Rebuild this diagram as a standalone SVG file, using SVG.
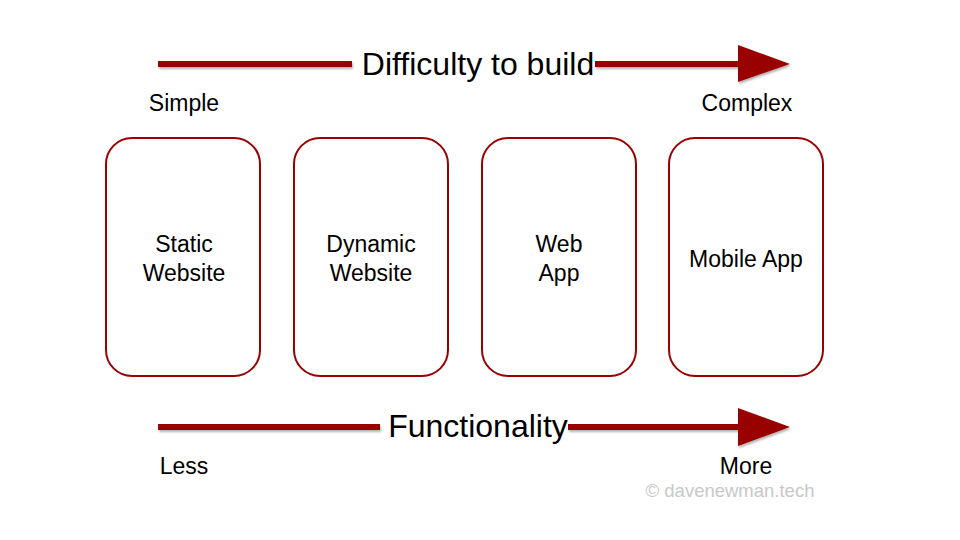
<svg xmlns="http://www.w3.org/2000/svg" width="960" height="540" viewBox="0 0 960 540">
<style>
.box{fill:#fff;stroke:#990000;stroke-width:2}
.t{font-family:"Liberation Sans",Arial,sans-serif;font-size:23px;fill:#000;text-anchor:middle}
.big{font-family:"Liberation Sans",Arial,sans-serif;font-size:32px;fill:#000;text-anchor:middle}
.bar{stroke:#990000;stroke-width:6;fill:none}
.head{fill:#990000}
</style>
<defs>
<filter id="sh" x="-5%" y="-50%" width="110%" height="200%">
<feDropShadow dx="1" dy="2" stdDeviation="1.2" flood-color="#000" flood-opacity="0.3"/>
</filter>
</defs>
<rect width="960" height="540" fill="#fff"/>
<g id="connectors" filter="url(#sh)">
<path class="bar" d="M158,64 H352 M595,64 H742"/>
<polygon class="head" points="738,45 790,64 738,82"/>
<path class="bar" d="M158,427 H380 M568,427 H742"/>
<polygon class="head" points="738,408 790,427 738,446"/>
</g>
<text class="big" x="478" y="75">Difficulty to build</text>
<text class="big" x="478" y="437">Functionality</text>
<text class="t" x="184" y="111">Simple</text>
<text class="t" x="747" y="111">Complex</text>
<text class="t" x="184" y="474">Less</text>
<text class="t" x="746" y="474">More</text>
<text x="730" y="497" style="font-family:'Liberation Sans',Arial,sans-serif;font-size:18.5px;fill:#c8c8c8;text-anchor:middle">© davenewman.tech</text>
<g id="static">
<rect class="box" x="106" y="138" width="154" height="238" rx="26"/>
<text class="t" x="184" y="252">Static</text>
<text class="t" x="184" y="281">Website</text>
</g>
<g id="dynamic">
<rect class="box" x="294" y="138" width="154" height="238" rx="26"/>
<text class="t" x="371" y="252">Dynamic</text>
<text class="t" x="371" y="281">Website</text>
</g>
<g id="webapp">
<rect class="box" x="482" y="138" width="154" height="238" rx="26"/>
<text class="t" x="559" y="252">Web</text>
<text class="t" x="559" y="281">App</text>
</g>
<g id="mobile">
<rect class="box" x="669" y="138" width="154" height="238" rx="26"/>
<text class="t" x="746" y="267">Mobile App</text>
</g>
</svg>
